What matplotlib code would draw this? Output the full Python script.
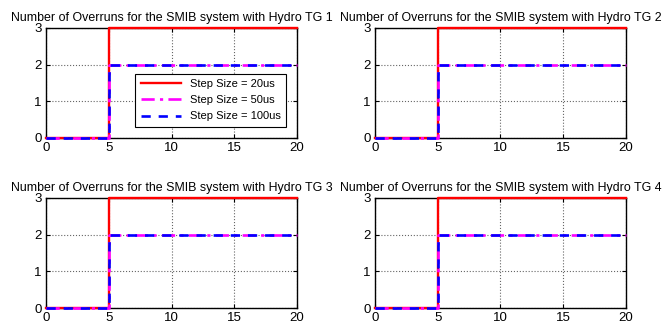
import matplotlib
matplotlib.use("Agg")
import matplotlib.pyplot as plt

plt.rcParams['font.family'] = ['Liberation Sans', 'DejaVu Sans']

# time instants (s) where the overrun count changes
t = [0, 5, 20]
overruns_20us = [0, 3, 3]
overruns_50us = [0, 2, 2]
overruns_100us = [0, 2, 2]
labels = ['Step Size = 20us', 'Step Size = 50us', 'Step Size = 100us']
titles = ['Number of Overruns for the SMIB system with Hydro TG %d' % k for k in (1, 2, 3, 4)]
xticks = [0, 5, 10, 15, 20]
yticks = [0, 1, 2, 3]

fig = plt.figure(figsize=(6.63, 3.23), dpi=100)
positions = [
    [0.0694, 0.5728, 0.3786, 0.3406],
    [0.5656, 0.5728, 0.3786, 0.3406],
    [0.0694, 0.0464, 0.3786, 0.3406],
    [0.5656, 0.0464, 0.3786, 0.3406],
]

for i, pos in enumerate(positions):
    ax = fig.add_axes(pos)
    ax.plot(t, overruns_20us, color='red', lw=1.7, drawstyle='steps-post',
            label=labels[0], zorder=5)
    ax.plot(t, overruns_50us, color='magenta', lw=1.9, ls='-.', dashes=(5, 2, 1.2, 2),
            drawstyle='steps-post', label=labels[1], zorder=6)
    ax.plot(t, overruns_100us, color='blue', lw=1.9, ls='--', dashes=(3.5, 3),
            drawstyle='steps-post', label=labels[2], zorder=7)
    ax.set_xlim(0, 20)
    ax.set_ylim(0, 3)
    ax.set_xticks(xticks)
    ax.set_yticks(yticks)
    ax.grid(True, ls=':', color='0.4', lw=0.8)
    ax.tick_params(direction='in', labelsize=9.5, length=3, pad=3,
                   top=True, right=True)
    for s in ax.spines.values():
        s.set_linewidth(1.0)
    for l in ax.get_lines():
        l.set_clip_on(False)
    ax.set_title(titles[i], fontsize=8.9, pad=5)
    if i == 0:
        leg = ax.legend(loc='lower right', bbox_to_anchor=(0.956, 0.1), borderaxespad=0,
                        fontsize=8, fancybox=False, framealpha=1, edgecolor='black',
                        handlelength=3.6, labelspacing=0.55, borderpad=0.5)
        leg.get_frame().set_linewidth(0.8)
        leg.set_zorder(10)

fig.savefig('out.png', dpi=100)
